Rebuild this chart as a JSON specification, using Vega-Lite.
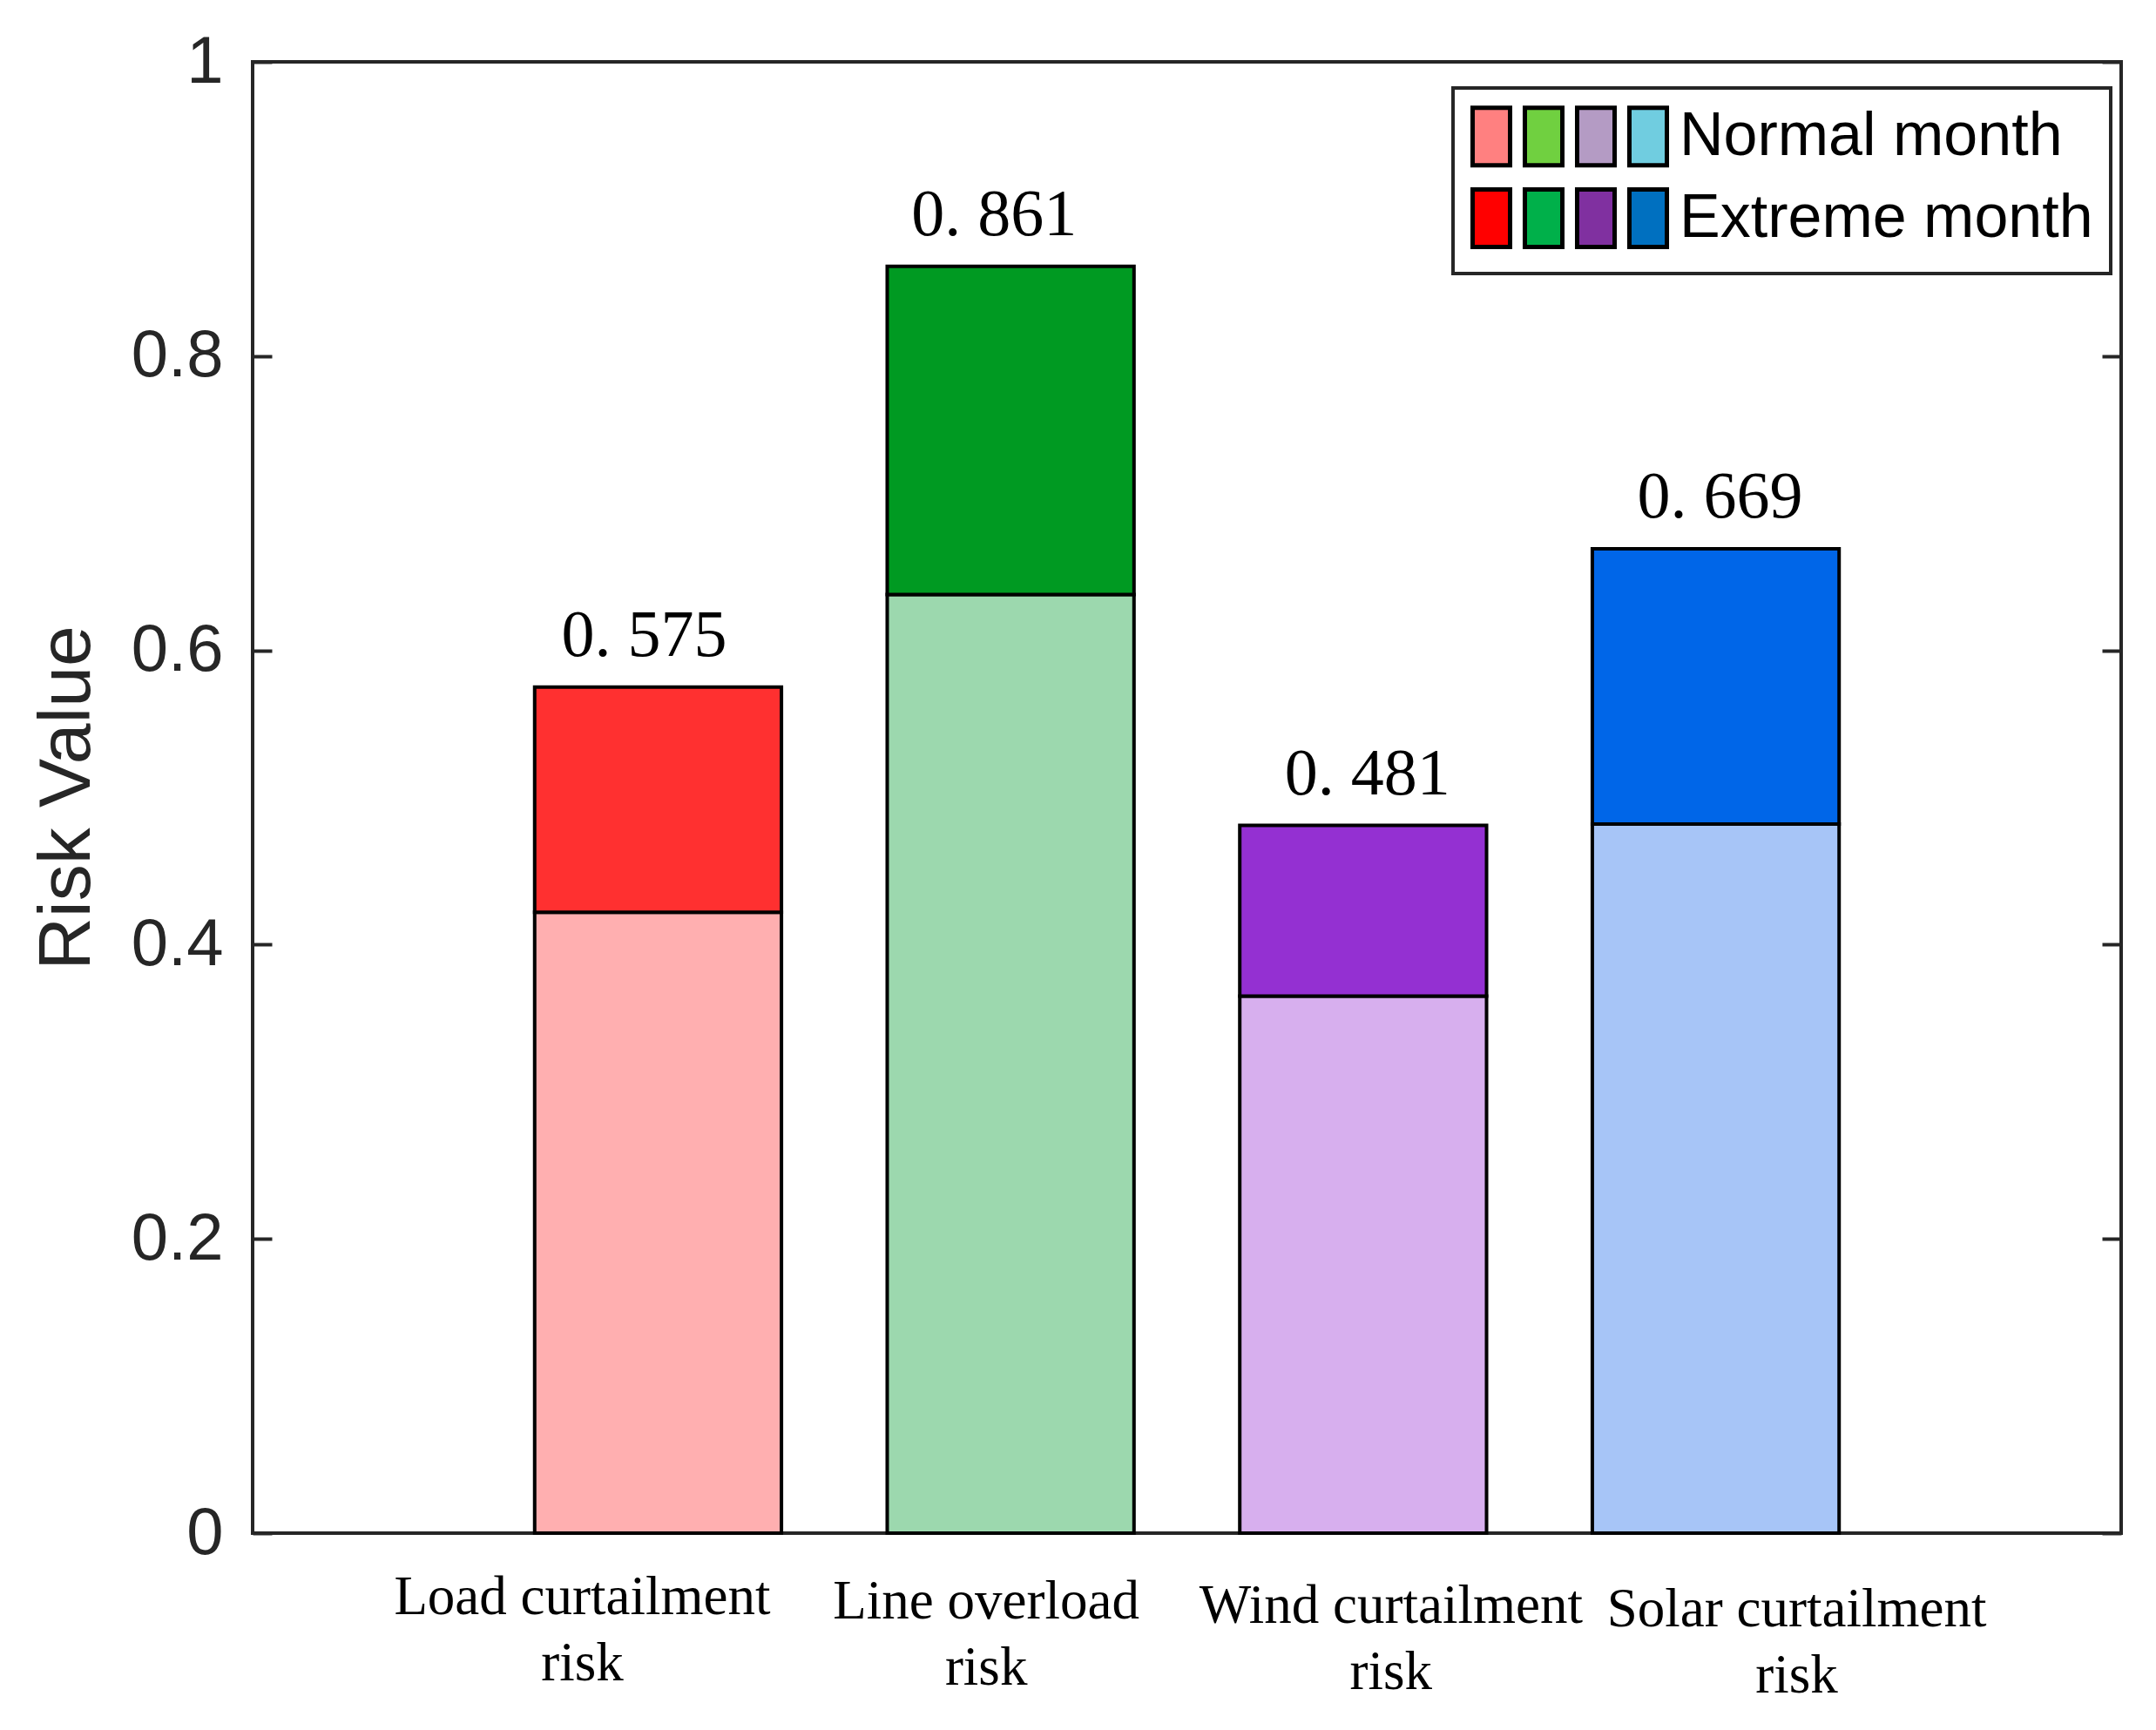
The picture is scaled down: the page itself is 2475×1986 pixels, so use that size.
{
  "$schema": "https://vega.github.io/schema/vega-lite/v6.json",
  "description": "Risk value by type, normal vs extreme month",
  "autosize": {"type": "none"},
  "padding": {"left": 290, "top": 71, "right": 40, "bottom": 226},
  "width": 2145,
  "height": 1689,
  "background": "white",
  "data": {
    "values": [
      {"risk": "Load curtailment risk", "month": "Normal month", "start": 0, "end": 0.422},
      {"risk": "Load curtailment risk", "month": "Extreme month", "start": 0.422, "end": 0.575},
      {"risk": "Line overload risk", "month": "Normal month", "start": 0, "end": 0.638},
      {"risk": "Line overload risk", "month": "Extreme month", "start": 0.638, "end": 0.861},
      {"risk": "Wind curtailment risk", "month": "Normal month", "start": 0, "end": 0.365},
      {"risk": "Wind curtailment risk", "month": "Extreme month", "start": 0.365, "end": 0.481},
      {"risk": "Solar curtailment risk", "month": "Normal month", "start": 0, "end": 0.482},
      {"risk": "Solar curtailment risk", "month": "Extreme month", "start": 0.482, "end": 0.669}
    ]
  },
  "transform": [
    {"calculate": "datum.risk + '|' + datum.month", "as": "key"},
    {"calculate": "replace(format(datum.end, '.3f'), '.', '. ')", "as": "lbl"}
  ],
  "encoding": {
    "x": {
      "field": "risk",
      "type": "nominal",
      "sort": null,
      "scale": {"paddingInner": 0.3, "paddingOuter": 0.8},
      "axis": {
        "title": null,
        "domain": false,
        "ticks": false,
        "labelAngle": 0,
        "labelLimit": 1000,
        "labelFont": "Liberation Serif",
        "labelFontSize": 63,
        "labelColor": "black",
        "labelLineHeight": 76,
        "labelBaseline": "top",
        "labelExpr": "[replace(datum.label, ' risk', ''), 'risk']",
        "labelOffset": {
          "condition": [
            {"test": "datum.value === 'Load curtailment risk'", "value": -87},
            {"test": "datum.value === 'Line overload risk'", "value": -28},
            {"test": "datum.value === 'Wind curtailment risk'", "value": 32}
          ],
          "value": 93
        },
        "labelPadding": {
          "condition": [
            {"test": "datum.value === 'Load curtailment risk'", "value": 42},
            {"test": "datum.value === 'Line overload risk'", "value": 47},
            {"test": "datum.value === 'Wind curtailment risk'", "value": 52}
          ],
          "value": 56
        }
      }
    }
  },
  "layer": [
    {
      "mark": {"type": "bar", "stroke": "black", "strokeWidth": 4},
      "encoding": {
        "y": {
          "field": "end",
          "type": "quantitative",
          "scale": {"domain": [0, 1], "nice": false},
          "axis": {
            "title": "Risk Value",
            "titleFont": "Liberation Sans",
            "titleFontSize": 84,
            "titleFontWeight": "normal",
            "titleColor": "#262626",
            "titlePadding": 30,
            "values": [0, 0.2, 0.4, 0.6, 0.8, 1],
            "format": "~g",
            "domain": false,
            "grid": false,
            "tickSize": -22,
            "tickWidth": 4,
            "tickColor": "#262626",
            "labelFont": "Liberation Sans",
            "labelFontSize": 76,
            "labelColor": "#262626",
            "labelPadding": 56
          }
        },
        "y2": {"field": "start"},
        "color": {
          "field": "key",
          "type": "nominal",
          "scale": {
            "domain": [
              "Load curtailment risk|Normal month", "Load curtailment risk|Extreme month",
              "Line overload risk|Normal month", "Line overload risk|Extreme month",
              "Wind curtailment risk|Normal month", "Wind curtailment risk|Extreme month",
              "Solar curtailment risk|Normal month", "Solar curtailment risk|Extreme month"
            ],
            "range": ["#FFAFB0", "#FF3030", "#9CD8AE", "#009A22", "#D7AFEE", "#9430D2", "#A7C5F7", "#0066E8"]
          },
          "legend": null
        }
      }
    },
    {
      "mark": {"type": "point", "filled": true, "opacity": 0, "size": 0},
      "encoding": {
        "y": {"field": "end", "type": "quantitative", "axis": null},
        "fill": {
          "field": "key",
          "type": "nominal",
          "scale": {
            "domain": [
              "Load curtailment risk|Normal month", "Line overload risk|Normal month",
              "Wind curtailment risk|Normal month", "Solar curtailment risk|Normal month",
              "Load curtailment risk|Extreme month", "Line overload risk|Extreme month",
              "Wind curtailment risk|Extreme month", "Solar curtailment risk|Extreme month"
            ],
            "range": ["#FF8080", "#70D040", "#B49BC4", "#70CDE0", "#FF0000", "#00B04A", "#8030A0", "#0070C0"]
          },
          "legend": {
            "title": null,
            "orient": "none",
            "legendX": 1378,
            "legendY": 30,
            "direction": "horizontal",
            "columns": 4,
            "gridAlign": "each",
            "symbolType": "M-0.652,-1H0.652V1H-0.652Z",
            "symbolSize": 4356,
            "symbolOffset": -11.5,
            "symbolStrokeColor": "black",
            "symbolStrokeWidth": 5,
            "symbolOpacity": 1,
            "labelFont": "Liberation Sans",
            "labelFontSize": 70,
            "labelColor": "black",
            "labelOffset": 0.5,
            "labelLimit": 0,
            "labelExpr": "datum.value === 'Solar curtailment risk|Normal month' ? '\u00a0Normal month' : (datum.value === 'Solar curtailment risk|Extreme month' ? '\u00a0Extreme month' : '')",
            "columnPadding": -17,
            "rowPadding": 7,
            "padding": 20,
            "strokeColor": "#262626",
            "fillColor": "white"
          }
        }
      }
    },
    {
      "transform": [{"filter": "datum.month === 'Extreme month'"}],
      "mark": {
        "type": "text",
        "font": "Liberation Serif",
        "fontSize": 76,
        "color": "black",
        "baseline": "alphabetic",
        "dy": -36,
        "dx": {"expr": "datum.risk === 'Load curtailment risk' ? -16 : (datum.risk === 'Line overload risk' ? -19 : 5)"}
      },
      "encoding": {
        "y": {
          "field": "end",
          "type": "quantitative",
          "axis": {
            "orient": "right",
            "title": null,
            "labels": false,
            "domain": false,
            "grid": false,
            "values": [0, 0.2, 0.4, 0.6, 0.8, 1],
            "tickSize": -22,
            "tickWidth": 4,
            "tickColor": "#262626"
          }
        },
        "text": {"field": "lbl"}
      }
    }
  ],
  "resolve": {"axis": {"y": "independent"}},
  "config": {
    "view": {"stroke": "#262626", "strokeWidth": 4},
    "legend": {"strokeWidth": 4},
    "font": "Liberation Sans"
  }
}
